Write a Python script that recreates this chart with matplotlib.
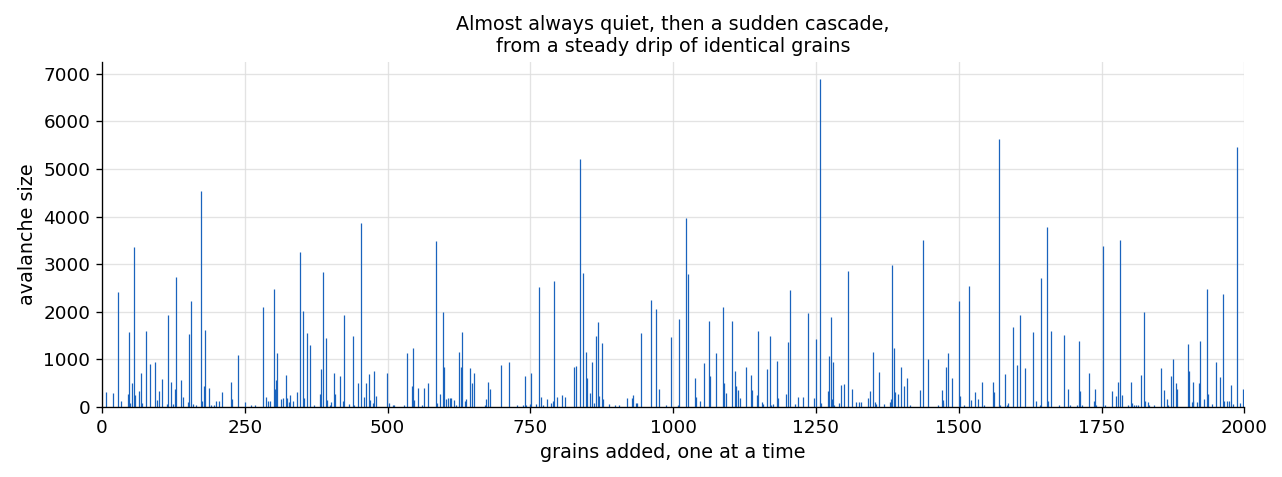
import matplotlib
matplotlib.use("Agg")
import matplotlib.pyplot as plt
import numpy as np

# avalanche sizes (grains not listed are zero / tiny)
n_grains = 2000
spike_grain = [
    7, 20, 28, 33, 45, 47, 49, 53, 56, 58, 65, 69, 70, 77, 84, 93, 97, 99, 105, 113,
    116, 121, 124, 128, 130, 139, 142, 151, 153, 155, 159, 165, 173, 175, 178, 181, 187, 190, 196, 199,
    205, 210, 226, 228, 238, 250, 261, 268, 282, 288, 291, 295, 301, 303, 305, 307, 314, 317, 322, 324,
    328, 329, 334, 341, 347, 352, 354, 359, 364, 371, 381, 384, 387, 392, 394, 399, 401,
    407, 408, 417, 422, 424, 433, 440, 441, 448, 454, 459, 462, 468, 469, 474, 476, 480, 499, 503,
    510, 512, 528, 534, 542, 545, 547, 554, 560, 564, 571, 585, 587, 592, 597, 599, 602, 605,
    609, 611, 616, 619, 625, 628, 630, 636, 638, 644, 647, 651, 670, 673, 676, 679, 698, 713, 726, 737,
    740, 743, 749, 751, 760, 765, 768, 773, 780, 786, 789, 791, 796, 805,
    811, 826, 830, 837, 842, 847, 850, 855, 858, 862, 865, 868, 871, 875, 878, 888, 898, 906, 919, 928,
    930, 935, 937, 944, 961, 970, 975, 988, 996, 1008,
    1011, 1022, 1026, 1038, 1040, 1047, 1054, 1063, 1065, 1075, 1087, 1089, 1092, 1103, 1108, 1110,
    1113, 1117, 1128, 1136, 1138, 1147, 1148, 1155, 1157, 1164, 1170, 1172, 1175, 1182, 1183, 1197,
    1201, 1205,
    1214, 1218, 1227, 1236, 1246, 1250, 1257, 1259, 1271, 1273, 1276, 1278, 1280, 1282, 1290, 1294,
    1299, 1306, 1313, 1320, 1325, 1329, 1341, 1344, 1350, 1353, 1355, 1360, 1369, 1379, 1381, 1383,
    1386, 1389, 1393, 1399, 1404, 1409,
    1415, 1432, 1437, 1446, 1463, 1470, 1472, 1473, 1477, 1481, 1488, 1500, 1502, 1509, 1518, 1521,
    1528, 1533, 1540, 1545, 1560, 1561, 1570, 1573, 1581, 1584, 1587, 1595, 1602, 1607,
    1616, 1630, 1635, 1642, 1644, 1654, 1656, 1661, 1675, 1684, 1691, 1695, 1707, 1710, 1712, 1716,
    1728, 1737, 1739, 1740, 1752, 1756, 1768, 1775, 1779, 1782, 1785, 1796, 1801, 1804, 1807, 1811,
    1814, 1819, 1824, 1826, 1831, 1833, 1842, 1855, 1860, 1864, 1866, 1871, 1875, 1881, 1883, 1901,
    1903, 1904, 1908, 1910, 1911, 1917, 1920, 1923, 1930, 1934, 1937, 1944, 1951, 1958, 1962, 1964,
    1969, 1974, 1977, 1981, 1987, 1993, 1997,
]
spike_size = [
    310, 290, 2420, 130, 270, 1580, 80, 500, 3370, 250, 340, 720, 80, 1600, 900, 950, 150, 340, 590, 60,
    1940, 530, 70, 385, 2720, 570, 200, 100, 1530, 2230, 70, 50, 4530, 120, 430, 1620, 405, 50, 50, 130,
    130, 320, 530, 170, 1100, 100, 50, 40, 2090, 200, 130, 130, 2470, 380, 560, 1130, 170, 190, 670, 190,
    100, 250, 130, 320, 3250, 2010, 190, 1550, 1300, 40, 280, 800, 2830, 1440, 150, 50, 100,
    720, 280, 640, 130, 1940, 60, 1480, 50, 510, 3860, 200, 500, 690, 150, 80, 760, 220, 710, 90,
    50, 50, 40, 1140, 430, 1230, 150, 390, 50, 405, 500, 3480, 80, 280, 1990, 840, 170, 190,
    190, 190, 150, 40, 1160, 840, 1570, 130, 170, 810, 500, 710, 50, 170, 520, 380, 880, 950, 50, 50,
    640, 40, 60, 710, 60, 2530, 200, 50, 170, 80, 130, 2640, 200, 250,
    200, 830, 860, 5210, 2810, 1150, 600, 300, 950, 90, 1480, 1790, 220, 1350, 160, 60, 30, 30, 180, 180,
    250, 80, 80, 1560, 2240, 2050, 385, 40, 1460, 50,
    1840, 3970, 2790, 600, 200, 130, 920, 1810, 640, 1140, 2090, 510, 300, 1810, 760, 430,
    350, 180, 830, 660, 350, 250, 1600, 100, 60, 790, 1480, 40, 60, 970, 180, 280,
    1370, 2460,
    60, 200, 200, 1970, 180, 1420, 6890, 90, 340, 1060, 1880, 160, 950, 50, 90, 450,
    480, 2850, 380, 100, 100, 100, 180, 330, 1160, 100, 60, 740, 60, 100, 160, 2980,
    1230, 320, 280, 830, 430, 600,
    30, 350, 3500, 1000, 30, 360, 80, 150, 830, 1130, 600, 2220, 220, 50, 2550, 140,
    320, 160, 520, 50, 520, 320, 5630, 40, 690, 50, 80, 1680, 880, 1930,
    810, 1580, 130, 50, 2710, 3790, 130, 1600, 30, 1510, 380, 50, 50, 1390, 330, 50,
    720, 130, 380, 50, 3390, 50, 340, 220, 530, 3510, 250, 30, 530, 80, 50, 50,
    50, 670, 1990, 130, 100, 50, 50, 810, 350, 160, 50, 640, 1000, 500, 380, 1320,
    760, 50, 100, 520, 130, 100, 500, 1390, 160, 2470, 280, 70, 950, 620, 2370, 130,
    130, 130, 450, 60, 5460, 90, 370,
]

sizes = np.zeros(n_grains)
sizes[spike_grain] = spike_size
grains = np.arange(n_grains)

fig, ax = plt.subplots(figsize=(10.69, 3.975), dpi=120)
fig.subplots_adjust(left=0.0795, right=0.970, top=0.870, bottom=0.147)

ax.vlines(grains, 0, sizes, color="#1a63bd", linewidth=0.75)

ax.set_xlim(0, n_grains)
ax.set_ylim(0, 7250)
ax.set_xticks(np.arange(0, 2001, 250))
ax.set_yticks(np.arange(0, 7001, 1000))
ax.grid(True, color="#dddddd", linewidth=0.8, alpha=0.8)
ax.set_axisbelow(True)
for side in ("top", "right"):
    ax.spines[side].set_visible(False)
ax.tick_params(labelsize=11)

ax.set_title("Almost always quiet, then a sudden cascade,\nfrom a steady drip of identical grains",
             fontsize=11.5)
ax.set_xlabel("grains added, one at a time", fontsize=11.5)
ax.set_ylabel("avalanche size", fontsize=11.5)

fig.savefig("out.png", dpi=120)
